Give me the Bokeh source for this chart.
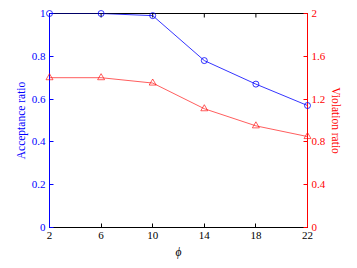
import math
from bokeh.plotting import figure
from bokeh.models import LinearAxis, Range1d, FixedTicker
from bokeh.embed import file_html
from bokeh.resources import INLINE

phi = [2, 6, 10, 14, 18, 22]
acceptance = [1.0, 1.0, 0.99, 0.78, 0.67, 0.57]
violation = [1.40, 1.40, 1.35, 1.11, 0.95, 0.85]
x_ticks = [2, 6, 10, 14, 18, 22]
left_ticks = [0, 0.2, 0.4, 0.6, 0.8, 1.0]
right_ticks = [0, 0.4, 0.8, 1.2, 1.6, 2.0]

FONT = "Liberation Serif"

p = figure(width=349, height=260, output_backend="svg", toolbar_location=None,
           x_range=Range1d(2, 22), y_range=Range1d(0, 1),
           min_border_left=49, min_border_right=42, min_border_top=13, min_border_bottom=32)
p.extra_y_ranges = {"right": Range1d(0, 2)}
p.grid.visible = False
p.outline_line_color = "black"
p.outline_line_width = 1
p.background_fill_color = "white"
p.border_fill_color = "white"

def style(ax, color):
    ax.axis_line_color = color
    ax.major_tick_line_color = color
    ax.major_tick_in = 4
    ax.major_tick_out = 0
    ax.minor_tick_line_color = None
    ax.major_label_text_color = color
    ax.major_label_text_font = FONT
    ax.major_label_text_font_size = "11px"
    ax.axis_label_text_color = color
    ax.axis_label_text_font = FONT
    ax.axis_label_text_font_size = "11.5px"
    ax.axis_label_text_font_style = "normal"
    ax.major_label_standoff = 4
    ax.axis_label_standoff = 2

xa = p.xaxis[0]
style(xa, "black")
xa.ticker = FixedTicker(ticks=x_ticks)
xa.axis_label = "ϕ"
xa.axis_label_text_font_style = "italic"
xa.axis_label_standoff = 4

ya = p.yaxis[0]
style(ya, "blue")
ya.ticker = FixedTicker(ticks=left_ticks)
ya.axis_label = "Acceptance ratio"
ya.major_label_overrides = {1.0: "1", 0: "0"}

ra = LinearAxis(y_range_name="right")
style(ra, "red")
ra.ticker = FixedTicker(ticks=right_ticks)
ra.axis_label = "Violation ratio"
ra.major_label_overrides = {2.0: "2", 0: "0"}
p.add_layout(ra, "right")

# inward tick marks on the top frame edge
p.ray(x=x_ticks[1:-1], y=[1] * (len(x_ticks) - 2), length=4, length_units="screen",
      angle=-math.pi / 2, color="black", line_width=1)

p.line(phi, acceptance, color="blue", line_width=0.8)
r1 = p.scatter(phi, acceptance, marker="circle", size=6, fill_color=None, line_color="blue", line_width=0.8, level="overlay")
p.line(phi, violation, color="red", line_width=0.8, alpha=0.8, y_range_name="right")
r2 = p.scatter(phi, violation, marker="triangle", size=7, fill_color=None, line_color="red", line_width=0.8, alpha=0.8,
               y_range_name="right", level="overlay")
for r in (r1, r2):
    try:
        r.clip = False
    except Exception:
        pass

open("out.html", "w").write(file_html(p, INLINE))
